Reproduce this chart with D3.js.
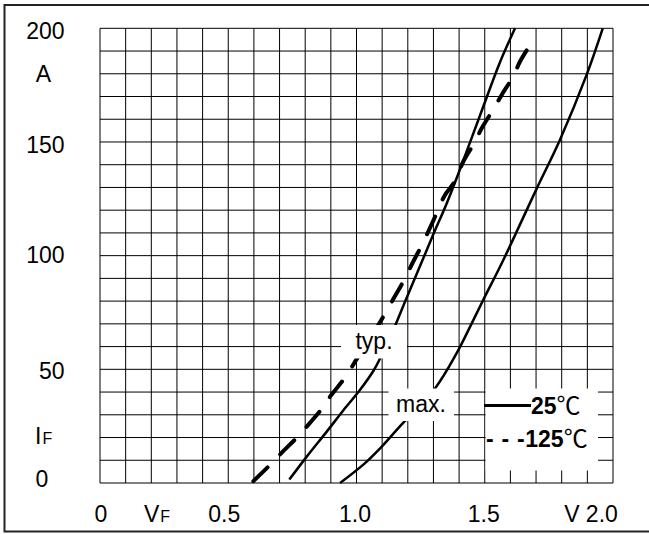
<!DOCTYPE html>
<html>
<head>
<meta charset="utf-8">
<script src="https://cdn.jsdelivr.net/npm/d3@7"></script>
<style>
html,body{margin:0;padding:0;background:#fff;}
svg{display:block;}
text{font-family:"Liberation Sans",Arial,sans-serif;fill:#000;}
</style>
</head>
<body>
<svg id="chart" width="649" height="534"></svg>
<script>
// ---- data (V in volts, I in amperes) ----
const xTickLabels = [
  {v: 0,   t: "0"},
  {v: 0.5, t: "0.5"},
  {v: 1.0, t: "1.0"},
  {v: 1.5, t: "1.5"},
  {v: 2.0, t: "V 2.0"}
];
const yTickLabels = [
  {v: 0,   t: "0"},
  {v: 50,  t: "50"},
  {v: 100, t: "100"},
  {v: 150, t: "150"},
  {v: 200, t: "200"}
];
const typ25V  = [0.738, 0.806, 0.884, 0.949, 1.014, 1.068, 1.092, 1.15, 1.19, 1.235, 1.30,  1.35,  1.397, 1.494, 1.559, 1.618];
const typ25I  = [1.5,   11.6,  22.6,  32,    41,    49.7,  54.8,  69,   80,   92,    109.5, 122.5, 136,   165.5, 185,   200];
const typ125V = [0.598, 0.665, 0.704, 0.771, 0.806, 0.868, 0.899, 0.958, 1.0, 1.085, 1.144, 1.189, 1.215, 1.258, 1.30, 1.345, 1.384, 1.416, 1.462, 1.488, 1.536, 1.566, 1.614, 1.637, 1.685];
const typ125I = [0.8,   8.2,   12.8,  20.4,  24.8,  33.1,  38.3,  46.8,  54.4, 69.5, 81,    90,    96,    105.4, 115.5, 126.7, 132.8, 141.3, 150.1, 156,  164.8, 170.7, 179.5, 185.3, 194.1];
const max25V  = [0.936, 1.03, 1.09, 1.17, 1.306, 1.39, 1.443, 1.494, 1.572, 1.703, 1.793, 1.897, 1.96];
const max25I  = [0,     8.4,  15,   25,   41.6,  57,   68.8,  80.5,  98,    129.6, 150.9, 179.5, 200];

const svg = d3.select("#chart");
const x = d3.scaleLinear().domain([0, 2.0]).range([100, 613]);
const y = d3.scaleLinear().domain([0, 200]).range([483, 28.3]);

// outer frame (right edge falls outside the picture)
svg.append("rect").attr("x", 4.5).attr("y", 5).attr("width", 660).attr("height", 526.5)
  .attr("fill", "none").attr("stroke", "#222").attr("stroke-width", 2);

// grid
const g = svg.append("g");
g.selectAll("line.v").data(d3.range(0, 21).map(i => i * 0.1)).enter().append("line")
  .attr("x1", d => x(d)).attr("x2", d => x(d)).attr("y1", y(0)).attr("y2", y(200))
  .attr("stroke", "#000").attr("stroke-width", 1);
g.selectAll("line.h").data(d3.range(0, 21).map(i => i * 10)).enter().append("line")
  .attr("y1", d => y(d)).attr("y2", d => y(d)).attr("x1", x(0)).attr("x2", x(2.0))
  .attr("stroke", "#000").attr("stroke-width", 1);

// curves
const line = d3.line().x(d => x(d[0])).y(d => y(d[1])).curve(d3.curveCatmullRom.alpha(0.5));
const zip = (a, b) => a.map((v, i) => [v, b[i]]);
svg.append("path").attr("d", line(zip(typ25V, typ25I)))
  .attr("fill", "none").attr("stroke", "#000").attr("stroke-width", 2.5);
svg.append("path").attr("d", line(zip(max25V, max25I)))
  .attr("fill", "none").attr("stroke", "#000").attr("stroke-width", 2.5);
svg.append("path").attr("d", line(zip(typ125V, typ125I)))
  .attr("fill", "none").attr("stroke", "#000").attr("stroke-width", 4)
  .attr("stroke-linecap", "round").attr("stroke-dasharray", "19.5 18.5");

// label boxes
const box = (x0, y0, x1, y1) => svg.append("rect").attr("x", x0).attr("y", y0)
  .attr("width", x1 - x0).attr("height", y1 - y0).attr("fill", "#fff");
box(341, 325, 407, 358.5);
box(388.5, 388.5, 454, 421);
box(485.6, 388.5, 598, 470.5);

svg.append("text").attr("x", 374).attr("y", 349).attr("text-anchor", "middle")
  .attr("font-size", 23).text("typ.");
svg.append("text").attr("x", 421).attr("y", 411.5).attr("text-anchor", "middle")
  .attr("font-size", 23).text("max.");

// legend
svg.append("line").attr("x1", 484).attr("x2", 531).attr("y1", 405.5).attr("y2", 405.5)
  .attr("stroke", "#000").attr("stroke-width", 2.8);
const l1 = svg.append("text").attr("x", 531).attr("y", 413.5).attr("font-size", 23);
l1.append("tspan").attr("font-weight", "bold").text("25");
l1.append("tspan").attr("font-family", "'Noto Sans CJK SC'").attr("font-size", 24).text("℃");
const l2 = svg.append("text").attr("x", 486).attr("y", 447).attr("font-size", 23);
l2.append("tspan").attr("font-weight", "bold").attr("letter-spacing", 0.7).text("- - -");
l2.append("tspan").attr("font-weight", "bold").text("125");
l2.append("tspan").attr("font-family", "'Noto Sans CJK SC'").attr("font-size", 24).text("℃");

// tick labels
const xNudge = {"0": 0.8, "0.5": -4, "1.0": -1.5, "1.5": -1, "V 2.0": -5};
svg.selectAll("text.xl").data(xTickLabels).enter().append("text")
  .attr("x", d => x(d.v) + xNudge[d.t] + (d.t === "V 2.0" ? -17 : 0))
  .attr("y", 521.5).attr("text-anchor", "middle").attr("font-size", 23).text(d => d.t);
const yNudge = {"0": 3.7, "50": 9.7, "100": 7.4, "150": 11, "200": 10.7};
svg.selectAll("text.yl").data(yTickLabels).enter().append("text")
  .attr("x", d => d.t === "0" ? 35.5 : 64.5)
  .attr("y", d => y(d.v) + yNudge[d.t])
  .attr("text-anchor", d => d.t === "0" ? "start" : "end")
  .attr("font-size", 23).text(d => d.t);

// axis unit labels
svg.append("text").attr("x", 43.3).attr("y", 81.7).attr("text-anchor", "middle")
  .attr("font-size", 23).text("A");
const ifl = svg.append("text").attr("x", 35).attr("y", 444).attr("font-size", 23);
ifl.append("tspan").text("I");
ifl.append("tspan").attr("font-size", 16).attr("dx", 1).text("F");
const vfl = svg.append("text").attr("x", 144).attr("y", 521.5).attr("font-size", 23);
vfl.append("tspan").text("V");
vfl.append("tspan").attr("font-size", 16).attr("dx", 1).text("F");
</script>
</body>
</html>
